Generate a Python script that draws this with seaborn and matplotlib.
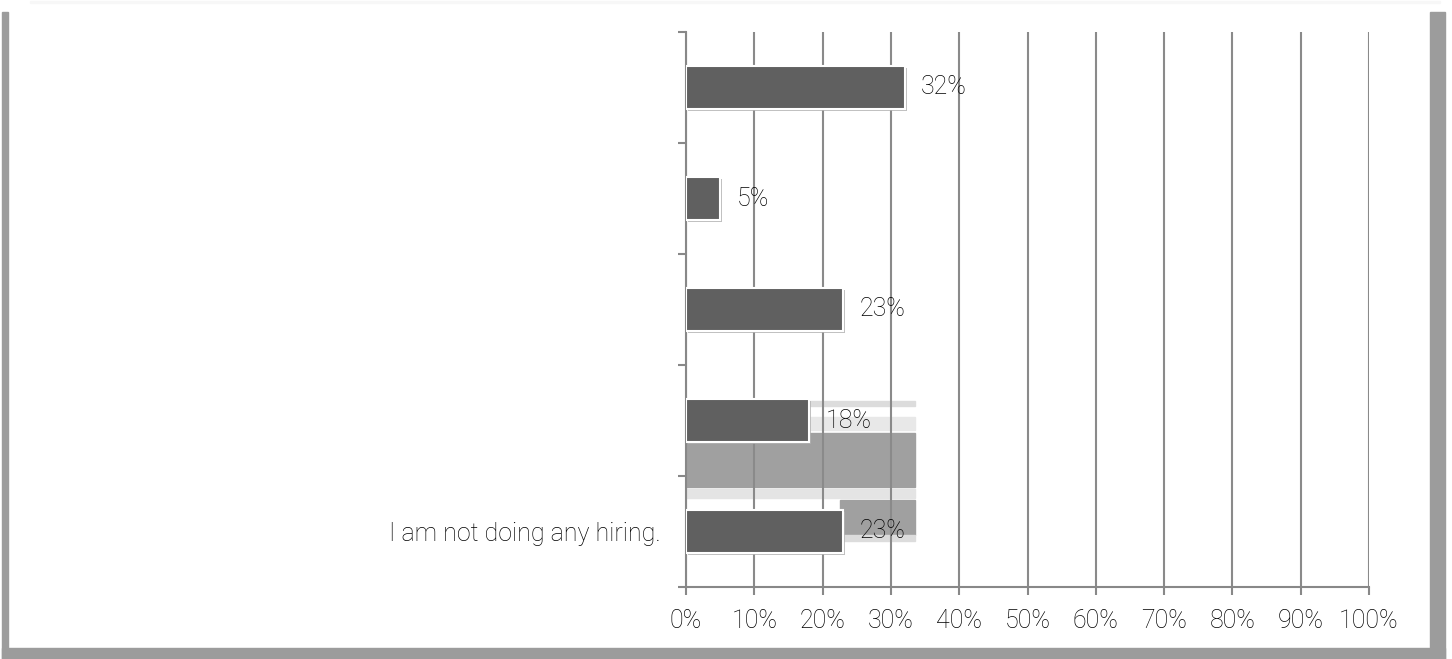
import matplotlib
matplotlib.use("Agg")
import matplotlib.pyplot as plt
import matplotlib.patheffects as pe
from matplotlib.patches import Rectangle
import seaborn as sns
import pandas as pd

# Data
categories = ["c1", "c2", "c3", "c4", "c5"]
tick_labels = ["", "", "", "", "I am not doing any hiring."]
values = [32, 5, 23, 18, 23]
x_ticks = list(range(0, 101, 10))

df = pd.DataFrame({"answer": categories, "share": values})

sns.set_style("white")
plt.rcParams["font.family"] = ["Roboto", "DejaVu Sans"]
plt.rcParams["font.weight"] = "light"
txt = "#000000"

W, H = 1452, 659
fig = plt.figure(figsize=(W / 100, H / 100), dpi=100)
fig.patch.set_facecolor("white")

# outer frame (gray shadow borders)
frame_col = "#9c9c9c"
fig.patches.append(Rectangle((2 / W, 0), 6 / W, 1 - 12 / H, transform=fig.transFigure,
                             color=frame_col, zorder=0))
fig.patches.append(Rectangle((2 / W, 0), (1445 - 2) / W, 11 / H, transform=fig.transFigure,
                             color=frame_col, zorder=0))
fig.patches.append(Rectangle((1430 / W, 0), 15 / W, 1 - 12 / H, transform=fig.transFigure,
                             color=frame_col, zorder=0))
fig.patches.append(Rectangle((30 / W, 1 - 3 / H), (1440 - 30) / W, 2 / H, transform=fig.transFigure,
                             color="#f7f7f7", zorder=0))

ax = fig.add_axes([686 / W, 1 - 587 / H, (1369 - 686) / W, (587 - 32) / H])

# gray rendering artefacts behind the lower bars
art = "#a0a0a0"
ax.add_patch(Rectangle((0, 3.11), 33.5, 0.49, color=art, zorder=0.5))
ax.add_patch(Rectangle((22.5, 3.72), 11, 0.31, color=art, zorder=0.5))
ax.add_patch(Rectangle((0, 3.62), 33.5, 0.08, color="#e4e4e4", zorder=0.5))
ax.add_patch(Rectangle((18, 2.82), 15.5, 0.05, color="#dcdcdc", zorder=0.5))
ax.add_patch(Rectangle((18, 2.97), 15.5, 0.12, color="#e8e8e8", zorder=0.5))
ax.add_patch(Rectangle((18, 4.03), 15.5, 0.06, color="#dcdcdc", zorder=0.5))

sns.barplot(data=df, x="share", y="answer", orient="h", color="#606060",
            saturation=1, width=0.38, edgecolor="white", linewidth=1.5, ax=ax, zorder=3)

for bar in ax.containers[0]:
    bar.set_path_effects([pe.SimplePatchShadow(offset=(1.5, -1.5), shadow_rgbFace="#b0b0b0", alpha=0.8),
                          pe.Normal()])

ax.bar_label(ax.containers[0], labels=[f"{v}%" for v in values], padding=12,
             fontsize=18, color=txt)

ax.set_xlim(0, 100)
ax.set_ylim(4.5, -0.5)
ax.set_xticks(x_ticks)
ax.set_xticklabels([f"{t}%" for t in x_ticks], fontsize=18, color=txt)
ax.set_yticks([i - 0.5 for i in range(len(categories) + 1)])
ax.set_yticklabels([])
ax.set_yticks(range(len(categories)), minor=True)
ax.set_yticklabels(tick_labels, minor=True, fontsize=18, color=txt)
ax.tick_params(axis="y", which="major", length=6, width=1.5, color="#888888", direction="out", left=True)
ax.tick_params(axis="y", which="minor", length=0, pad=18)
ax.tick_params(axis="x", length=6, width=1.5, color="#888888", direction="out", bottom=True, pad=10)

ax.grid(axis="x", color="#8a8a8a", linewidth=1.5, zorder=1)
ax.set_axisbelow(True)
for s in ["top", "right"]:
    ax.spines[s].set_visible(False)
for s in ["left", "bottom"]:
    ax.spines[s].set_color("#888888")
    ax.spines[s].set_linewidth(1.5)
ax.set_xlabel("")
ax.set_ylabel("")

fig.savefig("out.png", dpi=100)
